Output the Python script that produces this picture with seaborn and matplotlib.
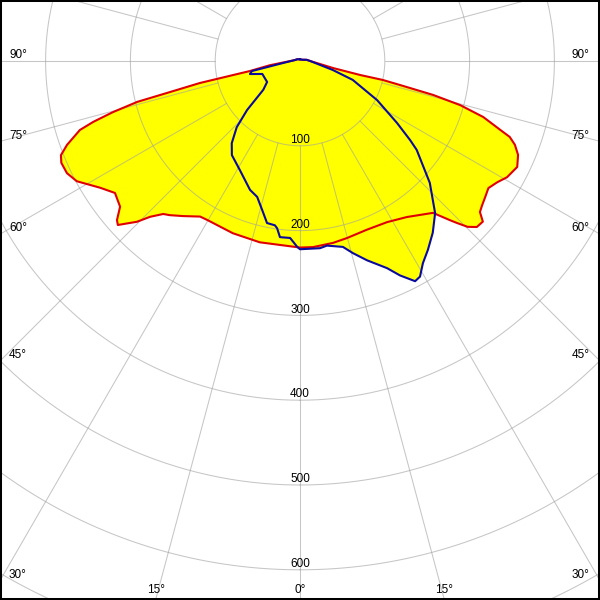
import numpy as np
import matplotlib
matplotlib.use("Agg")
import matplotlib.pyplot as plt
import seaborn as sns
from matplotlib.patches import Rectangle

#%% data: gamma angle (deg, 0 = straight down) and intensity (cd)
red_gamma = [-180, -120, -101, -82, -78.7, -77.6, -76.5, -75.9, -74.7, -73.6,
             -72.6, -70.2, -68.5, -66.9, -64.3, -61.7, -57.6, -54.5, -51, -49,
             -48, -45.4, -43.9, -41.8, -40.2, -37, -32.7, -30.1, -21.3, -12.5,
             0, 4, 10.3, 14.9, 21.6, 28.4, 34.4, 41.2, 43.3, 44.1,
             45.3, 46.8, 48.7, 50, 51.6, 53.7, 56, 58.4, 60.7, 64,
             66.7, 68.7, 70.1, 71, 73, 74.6, 75.7, 76.5, 77.1, 76.9,
             78, 90, 100, 120, 180]
red_cd = [2, 4, 6, 36, 60, 121, 161, 198, 229, 254,
          272, 292, 303, 306, 305, 299, 279, 268, 273, 286,
          289, 270, 255, 242, 238, 229, 218, 217, 218, 219,
          220, 220, 218, 216, 214, 216, 223, 238, 258, 266,
          278, 286, 287, 277, 274, 271, 268, 273, 280, 285,
          280, 272, 263, 250, 226, 196, 162, 121, 100, 73,
          40, 12, 8, 3, 2]

blue_gamma = [-180, -120, -101, -83.3, -78.2, -75.4, -71, -57.5, -51.9, -47.2,
              -43.7, -39.7, -35.9, -28.8, -21.2, -17.5, -14.3, -11.5, -8.7, -7.8,
              -6.5, -5.8, -3.2, -0.9, 0, 6.1, 8.3, 13, 15.4, 18.6,
              22.8, 25, 27.6, 29.1, 31.3, 34.1, 37.7, 41.6, 46.8, 52.7,
              54.3, 57.4, 63.1, 70.3, 74.7, 90, 100, 120, 180]
blue_cd = [2, 4, 6, 20, 58, 61, 47, 46, 55, 85,
           108, 126, 137, 147, 163, 168, 181, 195, 196, 199,
           209, 209, 209, 219, 222, 222, 220, 225, 235, 248,
           265, 279, 293, 291, 279, 269, 256, 240, 210, 173,
           160, 136, 102, 66, 40, 12, 8, 3, 2]

ring_values = [100, 200, 300, 400, 500, 600, 700, 800, 900]
ring_labels = ["100", "200", "300", "400", "500", "600"]
spoke_angles = list(range(-180, 180, 15))
side_angles = [90, 75, 60, 45, 30]
bottom_angles = [-15, 0, 15]


def to_xy(gamma, cd):
    g = np.radians(np.asarray(gamma, dtype=float))
    r = np.asarray(cd, dtype=float)
    return r * np.sin(g), -r * np.cos(g)


#%% figure
sns.set_style("white")
plt.rcParams['font.family'] = ['Liberation Sans', 'DejaVu Sans']

px = 0.848  # pixels per cd
fig = plt.figure(figsize=(6, 6), dpi=100)
ax = fig.add_axes([0, 0, 1, 1])
half_w = 300 / px
top = 61 / px
bottom = 539 / px

# yellow area (union of both planes)
rx, ry = to_xy(red_gamma, red_cd)
bx, by = to_xy(blue_gamma, blue_cd)
ax.fill(rx, ry, color='#ffff00', lw=0, zorder=1)
ax.fill(bx, by, color='#ffff00', lw=0, zorder=1)

# grid: rings and spokes (spokes start at the first ring)
t = np.linspace(0, 360, 721)
for r in ring_values:
    cx, cy = to_xy(t, np.full_like(t, r))
    ax.plot(cx, cy, color='#a0a0a0', lw=0.75, alpha=0.6, zorder=2)
for a in spoke_angles:
    sx, sy = to_xy([a, a], [100, 1000])
    ax.plot(sx, sy, color='#a0a0a0', lw=0.75, alpha=0.6, zorder=2)

sns.lineplot(x=rx, y=ry, sort=False, estimator=None, color='#e00000',
             linewidth=1.5, ax=ax, zorder=3)
sns.lineplot(x=bx, y=by, sort=False, estimator=None, color='#0a0a9c',
             linewidth=1.5, ax=ax, zorder=4)

# ring labels along the 0 deg spoke
for r, lab in zip(ring_values, ring_labels):
    ax.annotate(lab, xy=(0, -r), xytext=(0, 2), textcoords='offset points',
                ha='center', va='baseline', fontsize=8.5, color='black', zorder=5)

# angle labels where the spokes leave the frame
for a in side_angles:
    y = -half_w * np.cos(np.radians(a)) / np.sin(np.radians(a))
    ax.annotate(f"{a}°", xy=(-half_w, y), xytext=(6.5, 2), textcoords='offset points',
                ha='left', va='baseline', fontsize=8.5, color='black', zorder=5)
    ax.annotate(f"{a}°", xy=(half_w, y), xytext=(-7.5, 2), textcoords='offset points',
                ha='right', va='baseline', fontsize=8.5, color='black', zorder=5)
for a in bottom_angles:
    x = bottom * np.tan(np.radians(a))
    ax.annotate(f"{abs(a)}°", xy=(x, -bottom), xytext=(0, 5), textcoords='offset points',
                ha='center', va='baseline', fontsize=8.5, color='black', zorder=5)

ax.set_xlim(-half_w, half_w)
ax.set_ylim(-bottom, top)
ax.set_xlabel("")
ax.set_ylabel("")
ax.axis('off')
ax.add_patch(Rectangle((0, 0), 1, 1, transform=ax.transAxes, fill=False,
                       edgecolor='black', lw=2.9, clip_on=False, zorder=10))

fig.savefig('out.png', dpi=100)
